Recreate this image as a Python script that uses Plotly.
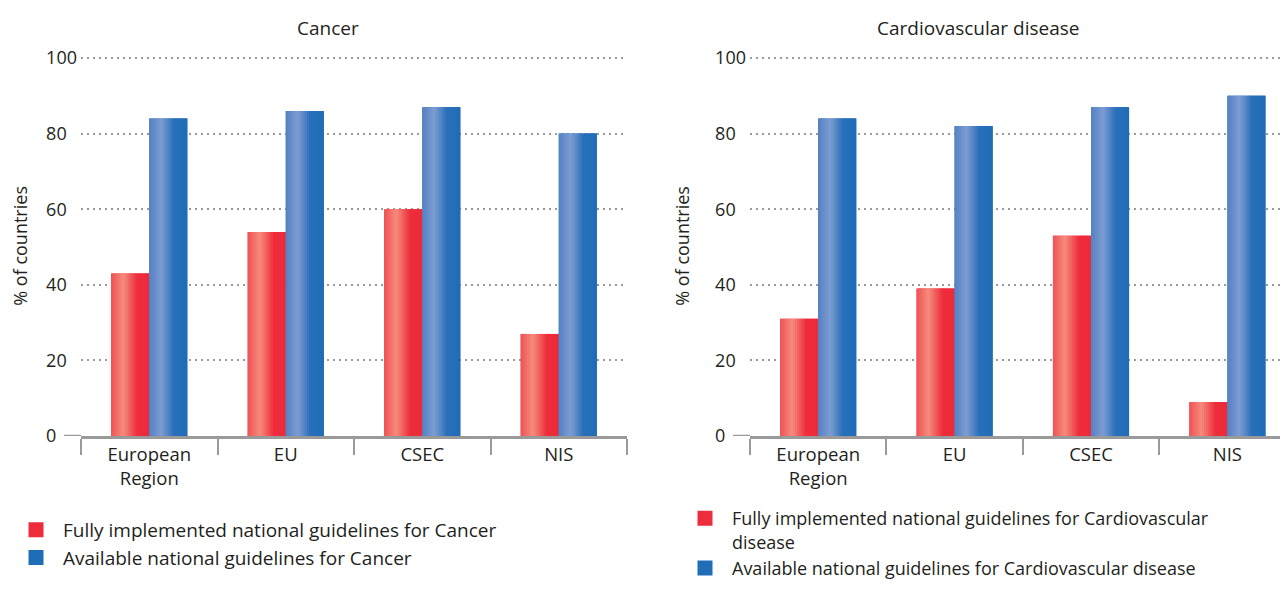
import plotly.graph_objects as go

# ---------------- data ----------------
categories = ["European<br>Region", "EU", "CSEC", "NIS"]
cancer_full = [43, 54, 60, 27]
cancer_available = [84, 86, 87, 80]
cvd_full = [31, 39, 53, 9]
cvd_available = [84, 82, 87, 90]
y_ticks = [0, 20, 40, 60, 80, 100]

panel_titles = ["Cancer", "Cardiovascular disease"]
legend_cancer = ["Fully implemented national guidelines for Cancer",
                 "Available national guidelines for Cancer"]
legend_cvd = ["Fully implemented national guidelines for Cardiovascular<br>disease",
              "Available national guidelines for Cardiovascular disease"]

# ---------------- style ----------------
FONT = "Open Sans"
TXT = "#231f20"
GRAY = "#9a9a9a"
PAGE_MARGIN = 8           # default body margin of the html page
W, H = 1288 - 2 * PAGE_MARGIN, 590 - 2 * PAGE_MARGIN
BAR_W = 0.279
N_STRIPES = 18
Y_TOP = 100.6             # a little headroom so the 100 gridline is drawn
PX_PER_UNIT = (436 - 58) / 100

RED_MAIN = "#ee2d3c"
BLUE_MAIN = "#1f6cb7"
RED_STOPS = [(0.0, "#ef5255"), (0.32, "#f58c7c"), (0.68, "#ee2d3c"), (1.0, "#ec2a3a")]
BLUE_STOPS = [(0.0, "#5581c3"), (0.32, "#7d9dd2"), (0.64, "#2a70ba"), (1.0, "#1f6cb7")]

# left-aligned tick labels (padded with figure spaces)
y_ticktext = [str(v) + "\u2007" * (3 - len(str(v))) for v in y_ticks]


def px(x):
    """window pixel x -> paper fraction"""
    return (x - PAGE_MARGIN) / W


def py(y):
    """window pixel y -> paper fraction"""
    return 1 - (y - PAGE_MARGIN) / H


def hex2rgb(h):
    h = h.lstrip("#")
    return [int(h[i:i + 2], 16) for i in (0, 2, 4)]


def grad(stops, t):
    for (t0, c0), (t1, c1) in zip(stops[:-1], stops[1:]):
        if t0 <= t <= t1:
            f = (t - t0) / (t1 - t0)
            a, b = hex2rgb(c0), hex2rgb(c1)
            return "rgb(%d,%d,%d)" % tuple(round(a[i] + (b[i] - a[i]) * f) for i in range(3))
    return stops[-1][1]


fig = go.Figure()


def add_series(vals, stops, main, offset, xa, ya):
    fig.add_trace(go.Bar(x=categories, y=vals, offset=offset, width=BAR_W,
                         marker=dict(color=main, line_width=0), xaxis=xa, yaxis=ya,
                         showlegend=False, hoverinfo="skip"))
    sw = BAR_W / N_STRIPES
    for i in range(N_STRIPES):
        start = offset + i * sw
        wdt = min(sw * 1.6, offset + BAR_W - start)
        fig.add_trace(go.Bar(x=categories, y=vals, offset=start, width=wdt,
                             marker=dict(color=grad(stops, (i + 0.5) / N_STRIPES), line_width=0),
                             xaxis=xa, yaxis=ya, showlegend=False, hoverinfo="skip"))


add_series(cancer_full, RED_STOPS, RED_MAIN, -BAR_W, "x", "y")
add_series(cancer_available, BLUE_STOPS, BLUE_MAIN, 0, "x", "y")
add_series(cvd_full, RED_STOPS, RED_MAIN, -BAR_W, "x2", "y2")
add_series(cvd_available, BLUE_STOPS, BLUE_MAIN, 0, "x2", "y2")

# legend entries
for name, col, lg, xa, ya in [(legend_cancer[0], RED_MAIN, "legend", "x", "y"),
                              (legend_cancer[1], BLUE_MAIN, "legend", "x", "y"),
                              (legend_cvd[0], RED_MAIN, "legend2", "x2", "y2"),
                              (legend_cvd[1], BLUE_MAIN, "legend2", "x2", "y2")]:
    fig.add_trace(go.Bar(x=[None], y=[None], name=name, legend=lg, xaxis=xa, yaxis=ya,
                         marker=dict(color=col, line=dict(color=col, width=3)),
                         hoverinfo="skip"))

y_dom = [py(436), py(436 - Y_TOP * PX_PER_UNIT)]


def xaxis(dom, rng):
    return dict(domain=dom, range=rng, type="category", showline=True, linecolor=GRAY,
                linewidth=2.5, ticks="outside", tickson="boundaries", ticklen=16,
                tickcolor=GRAY, tickwidth=1.5, showgrid=False, zeroline=False,
                tickfont=dict(family=FONT, size=18.5, color=TXT), fixedrange=True)


def yaxis(anchor):
    return dict(domain=y_dom, range=[0, Y_TOP], tickvals=y_ticks, ticktext=y_ticktext,
                showgrid=True, gridcolor=GRAY, griddash="1.5px,4.5px", gridwidth=1.5,
                showline=False, zeroline=False, ticks="", ticklabelstandoff=3, anchor=anchor,
                tickfont=dict(family=FONT, size=18, color=TXT), fixedrange=True,
                title=dict(text="% of countries", standoff=20,
                           font=dict(family=FONT, size=18, color=TXT)))


right_end = -0.5 + (1288 - PAGE_MARGIN - 750) / 136.4

fig.update_layout(
    width=W, height=H, autosize=False,
    margin=dict(l=0, r=0, t=0, b=0, autoexpand=False),
    paper_bgcolor="white", plot_bgcolor="white",
    barmode="overlay",
    font=dict(family=FONT, size=18, color=TXT),
    xaxis=xaxis([px(81), px(627)], [-0.5, 3.5]),
    yaxis=yaxis("x"),
    xaxis2=xaxis([px(750), 1.0], [-0.5, right_end]),
    yaxis2=yaxis("x2"),
    legend=dict(x=px(9), y=py(511), xanchor="left", yanchor="top",
                itemwidth=44, bgcolor="rgba(0,0,0,0)", valign="top",
                font=dict(family=FONT, size=19, color=TXT), traceorder="normal"),
    legend2=dict(x=px(678), y=py(500), xanchor="left", yanchor="top",
                 itemwidth=44, bgcolor="rgba(0,0,0,0)", valign="top",
                 font=dict(family=FONT, size=18, color=TXT), traceorder="normal"),
    annotations=[
        dict(text=panel_titles[0], x=px(328), y=py(28), xref="paper", yref="paper",
             showarrow=False, xanchor="center", yanchor="middle",
             font=dict(family=FONT, size=19, color=TXT)),
        dict(text=panel_titles[1], x=px(978), y=py(28), xref="paper", yref="paper",
             showarrow=False, xanchor="center", yanchor="middle",
             font=dict(family=FONT, size=19, color=TXT)),
    ],
    shapes=[
        dict(type="line", xref="x domain", yref="y", x0=-17 / 546, x1=0, y0=0, y1=0,
             line=dict(color=GRAY, width=2.5)),
        dict(type="line", xref="x2 domain", yref="y2", x0=-17 / (1280 - 750), x1=0, y0=0, y1=0,
             line=dict(color=GRAY, width=2.5)),
    ],
)

fig.write_html("out.html")
